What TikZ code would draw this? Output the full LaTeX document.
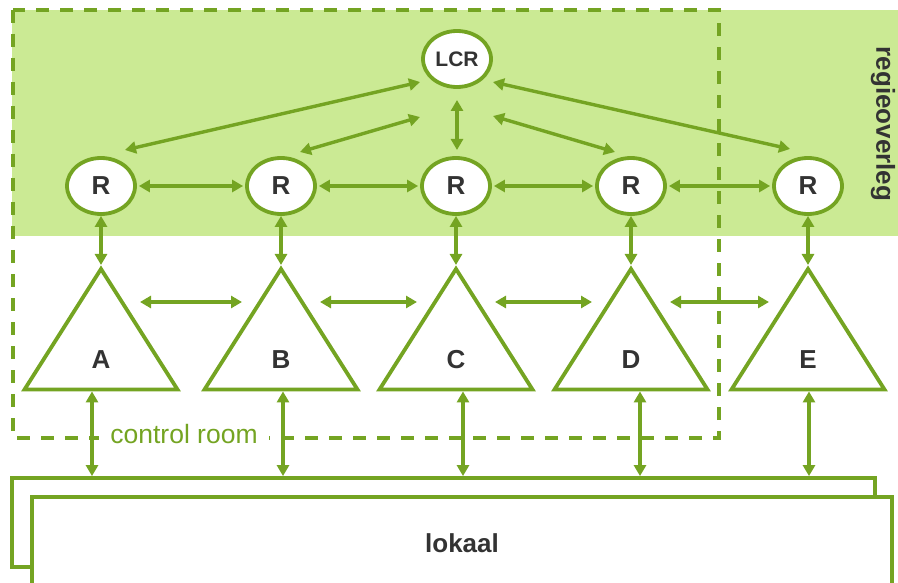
\documentclass[tikz,border=0pt]{standalone}
\usepackage{fontspec}
\setmainfont{Liberation Sans}
\usetikzlibrary{shapes.geometric,arrows.meta,calc}
\definecolor{lgreen}{RGB}{116,164,34}
\definecolor{lfill}{RGB}{203,234,148}
\definecolor{dgray}{RGB}{51,51,51}
\begin{document}
\begin{tikzpicture}[x=1pt,y=-1pt,
  rnode/.style={ellipse, draw=lgreen, line width=3.8pt, fill=white, minimum width=68pt, minimum height=56pt, inner sep=0pt, outer sep=1.9pt, text=dgray, font=\fontsize{26}{30}\selectfont\bfseries},
  lcrnode/.style={rnode, font=\fontsize{21}{25}\selectfont\bfseries},
  tri/.style={draw=lgreen, line width=3.8pt, fill=white, line join=miter},
  tlabel/.style={text=dgray, font=\fontsize{26}{30}\selectfont\bfseries, inner sep=0pt},
  arr/.style={draw=lgreen, line width=3.4pt, {Triangle[length=11pt,width=12pt]}-{Triangle[length=11pt,width=12pt]}},
  dashedbox/.style={draw=lgreen, line width=3.8pt, dash pattern=on 13pt off 11pt},
  lokbox/.style={draw=lgreen, line width=3.8pt, fill=white, rectangle, inner sep=0pt, outer sep=1.9pt},
]
\useasboundingbox (0,0) rectangle (898,583);
\clip (0,0) rectangle (898,583);

% green band
\fill[lfill] (12,10) rectangle (898,236);
\node[text=dgray, font=\fontsize{26}{30}\selectfont\bfseries, rotate=-90, inner sep=0pt] (regie) at (883,124) {regieoverleg};

% control room dashed region
\draw[dashedbox] (13,10) rectangle (719,438);
\node[anchor=base, fill=white, inner xsep=11pt, inner ysep=2pt, text=lgreen, font=\fontsize{26.5}{30}\selectfont] (ctrl) at (184,443) {control room};

% lokaal boxes
\node[lokbox, minimum width=863pt, minimum height=89pt] (lok1) at (443.5,522.5) {};
\node[lokbox, minimum width=860pt, minimum height=93pt, text=dgray, font=\fontsize{26}{30}\selectfont\bfseries] (lok2) at (462,543.5) {lokaal};

% ellipses
\node[lcrnode] (LCR) at (457,59) {LCR};
\node[rnode] (R1) at (101,186) {R};
\node[rnode] (R2) at (281,186) {R};
\node[rnode] (R3) at (456,186) {R};
\node[rnode] (R4) at (631,186) {R};
\node[rnode] (R5) at (808,186) {R};

% triangles
\foreach \n/\cx/\bx in {A/101/92, B/281/283, C/456/463, D/631/640, E/808/809} {
  \coordinate (\n-t) at (\cx,269);
  \coordinate (\n-l) at (\cx-76.5,389.5);
  \coordinate (\n-r) at (\cx+76.5,389.5);
  \coordinate (\n-b) at (\bx,389.5);
  \coordinate (\n-w) at (\cx-39,302);
  \coordinate (\n-e) at (\cx+39,302);
  \draw[tri] (\n-t) -- (\n-r) -- (\n-l) -- cycle;
  \node[tlabel] (\n-lab) at (\cx,360) {\n};
}

% LCR to R arrows
\draw[arr] ([shift={(-37,23)}]LCR.center) -- ([shift={(24,-36)}]R1.center);
\draw[arr] ([shift={(-37,58)}]LCR.center) -- ([shift={(19,-34)}]R2.center);
\draw[arr] ([shift={(0,41)}]LCR.center) -- ([shift={(1,-36)}]R3.center);
\draw[arr] ([shift={(36,57)}]LCR.center) -- ([shift={(-16,-34)}]R4.center);
\draw[arr] ([shift={(36,23)}]LCR.center) -- ([shift={(-18,-37)}]R5.center);

% R to R arrows
\draw[arr, shorten <=2pt, shorten >=2pt] (R1) -- (R2);
\draw[arr, shorten <=2pt, shorten >=2pt] (R2) -- (R3);
\draw[arr, shorten <=2pt, shorten >=2pt] (R3) -- (R4);
\draw[arr, shorten <=2pt, shorten >=2pt] (R4) -- (R5);

% R to triangle arrows
\draw[arr, shorten >=4pt] (R1.south) -- (A-t);
\draw[arr, shorten >=4pt] (R2.south) -- (B-t);
\draw[arr, shorten >=4pt] (R3.south) -- (C-t);
\draw[arr, shorten >=4pt] (R4.south) -- (D-t);
\draw[arr, shorten >=4pt] (R5.south) -- (E-t);

% triangle to triangle arrows
\draw[arr] (A-e) -- (B-w);
\draw[arr] (B-e) -- (C-w);
\draw[arr] (C-e) -- (D-w);
\draw[arr] (D-e) -- (E-w);

% triangle to lokaal arrows
\foreach \n in {A,B,C,D,E} {
  \draw[arr, shorten <=1.9pt] (\n-b) -- (\n-b |- lok1.north);
}
\end{tikzpicture}
\end{document}
